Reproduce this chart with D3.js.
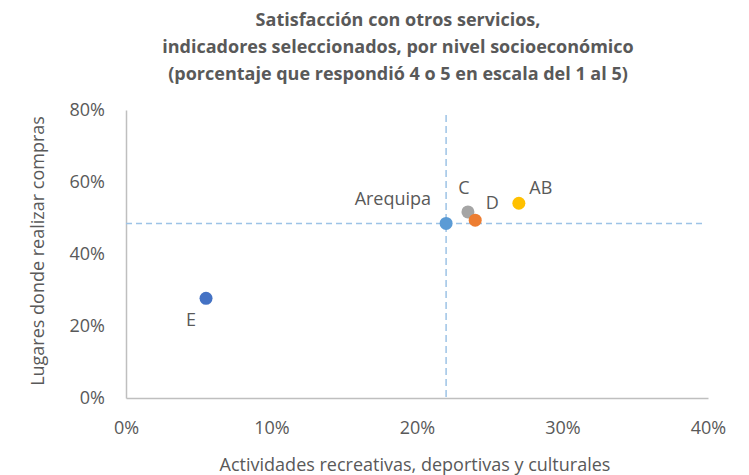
<!DOCTYPE html>
<html>
<head>
<meta charset="utf-8">
<script src="https://cdn.jsdelivr.net/npm/d3@7"></script>
<style>
  body { margin: 0; background: #fff; }
  text { font-family: "Open Sans", sans-serif; fill: #595959; }
</style>
</head>
<body>
<script>
// data (percentages)
const names = ["E", "Arequipa", "C", "D", "AB"];
const xValues = [5.5, 22.0, 23.5, 24.0, 27.0];
const yValues = [27.7, 48.5, 51.7, 49.4, 54.1];
const colors = ["#4472C4", "#5B9BD5", "#A5A5A5", "#ED7D31", "#FFC000"];
const xTicks = [0, 10, 20, 30, 40];
const yTicks = [0, 20, 40, 60, 80];
const titleLines = ["Satisfacción con otros servicios,",
                    "indicadores seleccionados, por nivel socioeconómico",
                    "(porcentaje que respondió 4 o 5 en escala del 1 al 5)"];
const refX = 22.0, refY = 48.5;

const w = 749, h = 475;
const plotLeft = 126, plotRight = 708, plotTop = 110, plotBottom = 398;

const svg = d3.select("body").append("svg")
    .attr("width", w)
    .attr("height", h);

const x = d3.scaleLinear().domain([0, 40]).range([plotLeft, plotRight]);
const y = d3.scaleLinear().domain([0, 80]).range([plotBottom, plotTop]);

// title
svg.append("g").selectAll("text")
    .data(titleLines)
    .enter().append("text")
    .attr("x", 398)
    .attr("y", (d, i) => 26 + i * 27)
    .attr("text-anchor", "middle")
    .attr("font-size", 18)
    .attr("font-weight", "bold")
    .text(d => d);

// axes
const xAxis = svg.append("g")
    .attr("transform", "translate(0," + plotBottom + ")")
    .call(d3.axisBottom(x).tickValues(xTicks).tickSize(0).tickPadding(23).tickFormat(d => d + "%"));
const yAxis = svg.append("g")
    .attr("transform", "translate(" + plotLeft + ",0)")
    .call(d3.axisLeft(y).tickValues(yTicks).tickSize(0).tickPadding(21).tickFormat(d => d + "%"));
[xAxis, yAxis].forEach(a => {
    a.select(".domain").attr("stroke", "#BFBFBF").attr("stroke-width", 1.5);
    a.selectAll("text").attr("font-size", 18).attr("fill", "#595959")
        .attr("font-family", "Open Sans, sans-serif");
});

// reference dashed lines at Arequipa
svg.append("line")
    .attr("x1", x(0)).attr("x2", x(40) - 2)
    .attr("y1", y(refY)).attr("y2", y(refY))
    .attr("stroke", "#9DC3E6").attr("stroke-width", 1.5)
    .attr("stroke-dasharray", "6,4");
svg.append("line")
    .attr("x1", x(refX)).attr("x2", x(refX))
    .attr("y1", y(80) + 5).attr("y2", y(0))
    .attr("stroke", "#9DC3E6").attr("stroke-width", 1.5)
    .attr("stroke-dasharray", "7,4");

// axis titles
svg.append("text")
    .text("Actividades recreativas, deportivas y culturales")
    .attr("x", 415)
    .attr("y", 471)
    .attr("text-anchor", "middle")
    .attr("font-size", 18);
svg.append("text")
    .text("Lugares donde realizar compras")
    .attr("text-anchor", "middle")
    .attr("font-size", 18)
    .attr("transform", "translate(44,251)rotate(-90)");

// points
svg.selectAll("circle")
    .data(names)
    .enter().append("circle")
    .attr("cx", (d, i) => x(xValues[i]))
    .attr("cy", (d, i) => y(yValues[i]))
    .attr("r", 6.5)
    .attr("fill", (d, i) => colors[i]);

// point labels
const labelOffsets = [[-15, 28], [-15, -18], [-4, -18], [17, -11], [22, -9]];
const labelAnchor = ["middle", "end", "middle", "middle", "middle"];
svg.append("g").selectAll("text")
    .data(names)
    .enter().append("text")
    .attr("x", (d, i) => x(xValues[i]) + labelOffsets[i][0])
    .attr("y", (d, i) => y(yValues[i]) + labelOffsets[i][1])
    .attr("text-anchor", (d, i) => labelAnchor[i])
    .attr("font-size", 18)
    .text(d => d);
</script>
</body>
</html>
